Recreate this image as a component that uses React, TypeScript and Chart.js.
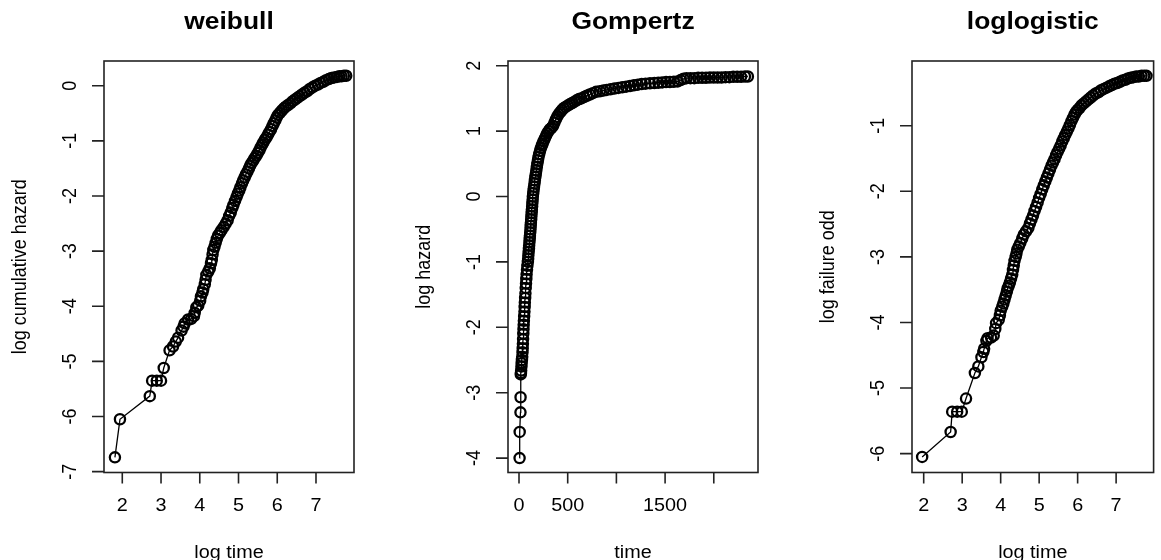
import React, { useEffect, useRef } from 'react';
import { Chart, registerables } from 'chart.js';

Chart.register(...registerables);

// ---------- data: weibull panel ----------
const weibullLogTime = [
  1.81, 1.94, 2.71, 2.77, 2.89, 3.0, 3.07,
  3.22, 3.31, 3.38, 3.44, 3.53, 3.58, 3.61, 3.7, 3.78, 3.85,
  3.87, 3.91, 3.96, 4.01, 4.03, 4.07, 4.09, 4.13, 4.15, 4.17,
  4.22, 4.26, 4.29, 4.31, 4.33, 4.35, 4.38, 4.41, 4.44, 4.47,
  4.52, 4.56, 4.62, 4.67, 4.72, 4.76, 4.8, 4.84, 4.87, 4.91,
  4.95, 4.98, 5.02, 5.05, 5.09, 5.12, 5.16, 5.19, 5.23, 5.27,
  5.3, 5.34, 5.38, 5.42, 5.46, 5.5, 5.54, 5.57, 5.61, 5.64,
  5.68, 5.72, 5.76, 5.8, 5.84, 5.88, 5.91, 5.95, 5.98, 6.02,
  6.07, 6.12, 6.17, 6.22, 6.28, 6.34, 6.4, 6.46, 6.52, 6.58,
  6.64, 6.7, 6.77, 6.84, 6.91, 6.98, 7.05, 7.12, 7.19, 7.26,
  7.33, 7.4, 7.47, 7.54, 7.6, 7.66, 7.72, 7.78,
];
const weibullLogCumHazard = [
  -6.74, -6.05, -5.63, -5.35, -5.35, -5.35, -5.12,
  -4.8, -4.73, -4.64, -4.57, -4.44, -4.37, -4.31, -4.24, -4.23, -4.18,
  -4.12, -4.02, -3.99, -3.9, -3.82, -3.75, -3.69, -3.6, -3.52, -3.43,
  -3.37, -3.31, -3.22, -3.16, -3.06, -2.98, -2.92, -2.85, -2.78, -2.72,
  -2.67, -2.62, -2.56, -2.5, -2.44, -2.36, -2.3, -2.22, -2.16, -2.09,
  -2.02, -1.96, -1.9, -1.84, -1.77, -1.72, -1.66, -1.61, -1.56, -1.5,
  -1.45, -1.4, -1.36, -1.31, -1.27, -1.22, -1.17, -1.12, -1.07, -1.03,
  -0.98, -0.94, -0.89, -0.84, -0.79, -0.73, -0.68, -0.63, -0.58, -0.53,
  -0.49, -0.45, -0.41, -0.38, -0.35, -0.32, -0.28, -0.25, -0.22, -0.19,
  -0.16, -0.13, -0.1, -0.06, -0.03, 0.0, 0.02, 0.05, 0.07, 0.1,
  0.12, 0.14, 0.15, 0.16, 0.17, 0.17, 0.18, 0.18,
];

// ---------- data: Gompertz panel ----------
const gompertzTime = [
  6, 7, 15, 16, 18, 20, 22, 25, 27, 30,
  33, 36, 38, 40, 42, 44, 46, 48, 50, 53,
  56, 58, 60, 63, 66, 69, 72, 75, 78, 82,
  86,
  91, 94, 96, 99, 102, 104, 107, 110, 112, 115,
  118, 120, 122, 125, 127, 130, 132, 135, 137, 140,
  142, 146, 150, 154, 159, 163, 168, 173, 178, 183,
  188, 194, 200, 208, 216, 225, 234, 243, 254, 265,
  278, 291, 304, 318, 334, 350, 364, 378, 392, 408,
  424, 440, 458, 478, 500, 522, 546, 570, 592, 616,
  640, 668, 696, 726, 758, 792, 830, 866, 900, 940,
  980, 1020, 1060, 1100, 1140, 1180, 1220, 1260, 1300, 1345,
  1390, 1430, 1470, 1510, 1550, 1590, 1630, 1660, 1690, 1720,
  1760, 1800, 1840, 1880, 1920, 1960, 2000, 2040, 2080, 2120,
  2160, 2200, 2240, 2280, 2320, 2350,
];
const gompertzLogHazard = [
  -4.0, -3.6, -3.3, -3.07, -2.72, -2.7, -2.66, -2.6, -2.55, -2.5,
  -2.45, -2.38, -2.32, -2.25, -2.18, -2.1, -2.03, -1.96, -1.9, -1.83,
  -1.76, -1.69, -1.62, -1.55, -1.48, -1.4, -1.33, -1.26, -1.19, -1.12,
  -1.06,
  -1.0, -0.95, -0.9, -0.85, -0.8, -0.75, -0.7, -0.65, -0.6, -0.55,
  -0.5, -0.45, -0.4, -0.35, -0.3, -0.25, -0.2, -0.15, -0.1, -0.05,
  0.0, 0.05, 0.1, 0.15, 0.2, 0.25, 0.3, 0.35, 0.4, 0.45,
  0.5, 0.55, 0.6, 0.65, 0.7, 0.74, 0.78, 0.81, 0.85, 0.89,
  0.93, 0.97, 1.0, 1.03, 1.05, 1.08, 1.13, 1.18, 1.22, 1.26,
  1.29, 1.32, 1.35, 1.37, 1.39, 1.41, 1.43, 1.45, 1.47, 1.49,
  1.5, 1.52, 1.54, 1.56, 1.58, 1.6, 1.61, 1.62, 1.63, 1.64,
  1.65, 1.66, 1.67, 1.68, 1.69, 1.7, 1.71, 1.72, 1.725, 1.73,
  1.735, 1.74, 1.745, 1.75, 1.75, 1.755, 1.76, 1.78, 1.8, 1.81,
  1.81, 1.81, 1.815, 1.815, 1.815, 1.82, 1.82, 1.82, 1.82, 1.825,
  1.825, 1.83, 1.83, 1.83, 1.835, 1.835,
];

// ---------- data: loglogistic panel ----------
const loglogLogTime = [
  1.96, 2.7, 2.74, 2.87, 2.99, 3.1, 3.33, 3.42, 3.5, 3.55,
  3.57, 3.63, 3.66, 3.75, 3.82, 3.86, 3.88, 3.95, 3.98, 4.0,
  4.04, 4.07, 4.1, 4.13, 4.16, 4.18, 4.21, 4.24, 4.27, 4.3,
  4.32, 4.34, 4.36, 4.39, 4.41, 4.43, 4.47, 4.51, 4.56, 4.6,
  4.66, 4.72, 4.76, 4.8, 4.84, 4.88, 4.92, 4.96, 5.0, 5.04,
  5.08, 5.12, 5.16, 5.2, 5.24, 5.28, 5.32, 5.36, 5.4, 5.44,
  5.48, 5.52, 5.56, 5.6, 5.64, 5.68, 5.72, 5.76, 5.8, 5.84,
  5.88, 5.92, 5.96, 6.0, 6.05, 6.1, 6.16, 6.22, 6.28, 6.34,
  6.4, 6.47, 6.54, 6.61, 6.68, 6.75, 6.82, 6.89, 6.96, 7.03,
  7.1, 7.17, 7.24, 7.31, 7.38, 7.45, 7.52, 7.59, 7.66, 7.73,
  7.79,
];
const loglogLogFailureOdd = [
  -6.05, -5.67, -5.36, -5.36, -5.36, -5.16, -4.77, -4.67, -4.53, -4.45,
  -4.4, -4.28, -4.24, -4.23, -4.2, -4.1, -4.01, -3.96, -3.89, -3.82,
  -3.76, -3.71, -3.65, -3.59, -3.53, -3.48, -3.44, -3.39, -3.33, -3.27,
  -3.2, -3.13, -3.06, -3.0, -2.95, -2.89, -2.84, -2.79, -2.72, -2.66,
  -2.61, -2.56, -2.49, -2.43, -2.37, -2.3, -2.24, -2.17, -2.1, -2.04,
  -1.97, -1.91, -1.85, -1.79, -1.73, -1.67, -1.61, -1.56, -1.51, -1.45,
  -1.4, -1.35, -1.3, -1.24, -1.19, -1.14, -1.09, -1.04, -0.99, -0.93,
  -0.88, -0.83, -0.79, -0.76, -0.73, -0.69, -0.66, -0.63, -0.6, -0.57,
  -0.54, -0.51, -0.49, -0.46, -0.44, -0.42, -0.4, -0.38, -0.36, -0.35,
  -0.33, -0.31, -0.3, -0.28, -0.27, -0.26, -0.25, -0.25, -0.24, -0.24,
  -0.24,
];

// ---------- ticks ----------
const weibullXTicks = [2, 3, 4, 5, 6, 7];
const weibullXTickLabels = ['2', '3', '4', '5', '6', '7'];
const weibullYTicks = [0, -1, -2, -3, -4, -5, -6, -7];
const weibullYTickLabels = ['0', '-1', '-2', '-3', '-4', '-5', '-6', '-7'];

const gompertzXTicks = [0, 500, 1000, 1500, 2000];
const gompertzXTickLabels = ['0', '500', '', '1500', ''];
const gompertzYTicks = [2, 1, 0, -1, -2, -3, -4];
const gompertzYTickLabels = ['2', '1', '0', '-1', '-2', '-3', '-4'];

const loglogXTicks = [2, 3, 4, 5, 6, 7];
const loglogXTickLabels = ['2', '3', '4', '5', '6', '7'];
const loglogYTicks = [-1, -2, -3, -4, -5, -6];
const loglogYTickLabels = ['-1', '-2', '-3', '-4', '-5', '-6'];

const panelTitles = ['weibull', 'Gompertz', 'loglogistic'];
const xAxisTitles = ['log time', 'time', 'log time'];
const yAxisTitles = ['log cumulative hazard', 'log hazard', 'log failure odd'];

const FONT = '"Liberation Sans", Arial, Helvetica, sans-serif';
const STRETCH = 1.1;

function drawText(ctx: CanvasRenderingContext2D, text: string, x: number, y: number, rotated: boolean, font: string) {
  ctx.save();
  ctx.translate(x, y);
  ctx.scale(STRETCH, 1);
  if (rotated) ctx.rotate(-Math.PI / 2);
  ctx.font = font;
  ctx.textAlign = 'center';
  ctx.textBaseline = 'alphabetic';
  ctx.fillText(text, 0, 0);
  ctx.restore();
}

const rStylePlugin = {
  id: 'rStyle',
  afterDraw(chart: any, _args: any, opts: any) {
    const { ctx, chartArea: a, scales } = chart;
    const xs = scales.x;
    const ys = scales.y;
    ctx.save();
    ctx.strokeStyle = '#222';
    ctx.lineWidth = 1.6;
    ctx.strokeRect(a.left, a.top, a.right - a.left, a.bottom - a.top);
    ctx.beginPath();
    opts.xTicks.forEach((v: number) => {
      const px = xs.getPixelForValue(v);
      ctx.moveTo(px, a.bottom);
      ctx.lineTo(px, a.bottom + 11);
    });
    opts.yTicks.forEach((v: number) => {
      const py = ys.getPixelForValue(v);
      ctx.moveTo(a.left, py);
      ctx.lineTo(a.left - 12, py);
    });
    ctx.stroke();
    ctx.fillStyle = '#000';
    const tickFont = `18px ${FONT}`;
    opts.xTicks.forEach((v: number, i: number) => {
      const lbl = opts.xLabels[i];
      if (lbl) drawText(ctx, lbl, xs.getPixelForValue(v), 511, false, tickFont);
    });
    opts.yTicks.forEach((v: number, i: number) => {
      const lbl = opts.yLabels[i];
      if (lbl) drawText(ctx, lbl, a.left - 28, ys.getPixelForValue(v), true, tickFont);
    });
    const cx = (a.left + a.right) / 2;
    const cy = (a.top + a.bottom) / 2;
    drawText(ctx, opts.xTitle, cx, 558, false, tickFont);
    drawText(ctx, opts.yTitle, a.left - 78.5, cy, true, tickFont);
    drawText(ctx, opts.title, cx, 28.5, false, `bold 24px ${FONT}`);
    ctx.restore();
  },
};

type PanelProps = {
  left: number;
  xs: number[];
  ys: number[];
  xMin: number; xMax: number; yMin: number; yMax: number;
  padLeft: number; padRight: number;
  cfg: any;
};

function Panel({ left, xs, ys, xMin, xMax, yMin, yMax, padLeft, padRight, cfg }: PanelProps) {
  const ref = useRef<HTMLCanvasElement | null>(null);
  useEffect(() => {
    if (!ref.current) return;
    const n = Math.min(xs.length, ys.length);
    const pts = [];
    for (let i = 0; i < n; i++) pts.push({ x: xs[i], y: ys[i] });
    const chart = new Chart(ref.current, {
      type: 'line',
      data: {
        datasets: [
          {
            data: pts,
            borderColor: '#000',
            borderWidth: 1.3,
            backgroundColor: 'rgba(0,0,0,0)',
            pointRadius: 5.1,
            pointHoverRadius: 5.1,
            pointBorderWidth: 2.3,
            pointBorderColor: '#000',
            pointBackgroundColor: 'rgba(0,0,0,0)',
            tension: 0,
            fill: false,
            clip: false as any,
          },
        ],
      },
      options: {
        responsive: false,
        animation: false,
        devicePixelRatio: 1,
        layout: { padding: { left: padLeft, right: padRight, top: 61, bottom: 87.5 } },
        scales: {
          x: { type: 'linear', min: xMin, max: xMax, display: false },
          y: { type: 'linear', min: yMin, max: yMax, display: false },
        },
        plugins: {
          legend: { display: false },
          tooltip: { enabled: false },
          rStyle: cfg,
        } as any,
        events: [],
      },
      plugins: [rStylePlugin],
    });
    return () => chart.destroy();
  }, []);
  return (
    <canvas
      ref={ref}
      width={387}
      height={560}
      style={{ position: 'absolute', left, top: 0, width: 387, height: 560 }}
    />
  );
}

export default function App() {
  return (
    <div style={{ position: 'absolute', left: 0, top: 0, width: 1161, height: 560, background: '#fff', overflow: 'hidden' }}>
      <Panel
        left={0}
        xs={weibullLogTime}
        ys={weibullLogCumHazard}
        xMin={1.528} xMax={7.981} yMin={-7.015} yMax={0.448}
        padLeft={104} padRight={33}
        cfg={{ xTicks: weibullXTicks, xLabels: weibullXTickLabels, yTicks: weibullYTicks, yLabels: weibullYTickLabels, title: panelTitles[0], xTitle: xAxisTitles[0], yTitle: yAxisTitles[0] }}
      />
      <Panel
        left={387}
        xs={gompertzTime}
        ys={gompertzLogHazard}
        xMin={-113} xMax={2454} yMin={-4.22} yMax={2.072}
        padLeft={121} padRight={16}
        cfg={{ xTicks: gompertzXTicks, xLabels: gompertzXTickLabels, yTicks: gompertzYTicks, yLabels: gompertzYTickLabels, title: panelTitles[1], xTitle: xAxisTitles[1], yTitle: yAxisTitles[1] }}
      />
      <Panel
        left={774}
        xs={loglogLogTime}
        ys={loglogLogFailureOdd}
        xMin={1.696} xMax={7.974} yMin={-6.287} yMax={-0.014}
        padLeft={138} padRight={1.5}
        cfg={{ xTicks: loglogXTicks, xLabels: loglogXTickLabels, yTicks: loglogYTicks, yLabels: loglogYTickLabels, title: panelTitles[2], xTitle: xAxisTitles[2], yTitle: yAxisTitles[2] }}
      />
    </div>
  );
}
